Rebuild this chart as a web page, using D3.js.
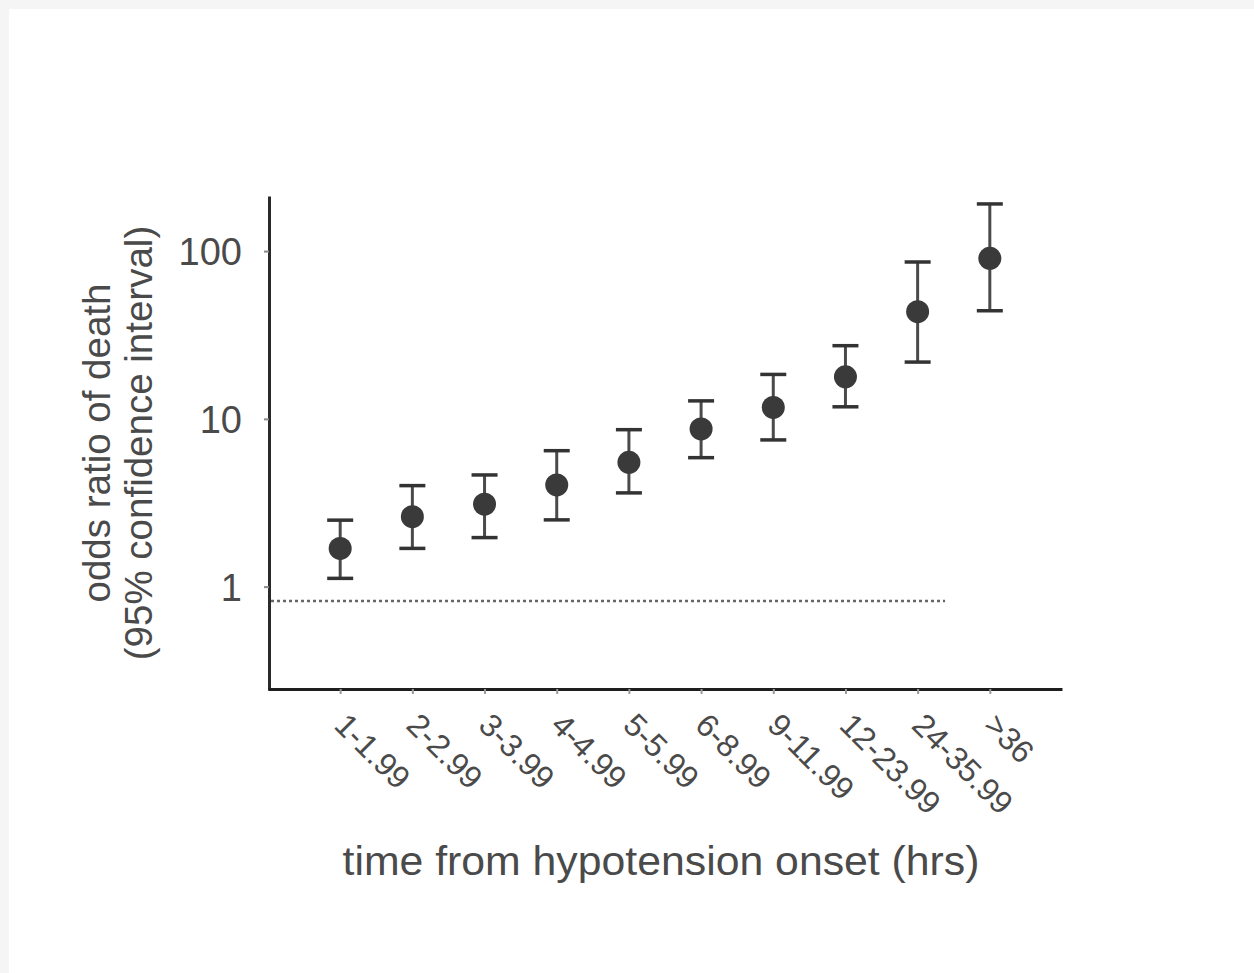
<!DOCTYPE html>
<html>
<head>
<meta charset="utf-8">
<script src="https://cdn.jsdelivr.net/npm/d3@7/dist/d3.min.js"></script>
<style>
  html, body { margin: 0; padding: 0; background: #f5f5f5; }
  svg { display: block; }
  text { font-family: "Liberation Sans", Arial, sans-serif; }
</style>
</head>
<body>
<svg id="chart" width="1254" height="973"></svg>
<script>
// ---- data ----
const categories = ["1-1.99", "2-2.99", "3-3.99", "4-4.99", "5-5.99", "6-8.99", "9-11.99", "12-23.99", "24-35.99", ">36"];
const oddsRatio  = [1.69, 2.61, 3.10, 4.04, 5.51, 8.71, 11.7, 17.8, 43.5, 90.6];
const ciLower    = [1.12, 1.69, 1.96, 2.50, 3.62, 5.87, 7.49, 11.8, 21.8, 44.1];
const ciUpper    = [2.49, 4.00, 4.63, 6.46, 8.62, 12.8, 18.4, 27.3, 86.1, 191];
const yTickValues = [1, 10, 100];
const yTickLabels = ["1", "10", "100"];
const yDomain = [0.242, 213];
const referenceValue = 0.822;
const xTitle = "time from hypotension onset (hrs)";
const yTitleLines = ["odds ratio of death", "(95% confidence interval)"];

// ---- layout ----
const svg = d3.select("#chart");
svg.append("rect").attr("x", 9).attr("y", 9).attr("width", 1245).attr("height", 964).attr("fill", "#ffffff");

const x = d3.scalePoint().domain(categories).range([268, 1062]).padding(1);
const y = d3.scaleLog().domain(yDomain).range([690, 196]);

const textColor = "#4a4a4a";
const markColor = "#3a3a3a";

// y axis
const yAxis = svg.append("g")
  .attr("transform", "translate(269,0)")
  .call(d3.axisLeft(y).tickValues(yTickValues).tickFormat((d, i) => yTickLabels[i]).tickSize(5).tickSizeOuter(0).tickPadding(22));
yAxis.select(".domain").attr("stroke", "#2a2a2a").attr("stroke-width", 3);
yAxis.selectAll(".tick line").attr("stroke", "#888").attr("stroke-width", 2);
yAxis.selectAll(".tick text")
  .attr("fill", textColor).attr("font-size", 38).attr("dy", "0.36em");

// x axis
const xAxis = svg.append("g")
  .attr("transform", "translate(0,689)")
  .call(d3.axisBottom(x).tickSize(5).tickSizeOuter(0));
xAxis.select(".domain").attr("stroke", "#1e1e1e").attr("stroke-width", 3);
xAxis.selectAll(".tick line").attr("stroke", "#999").attr("stroke-width", 2);
xAxis.selectAll(".tick text")
  .attr("fill", textColor).attr("font-size", 32)
  .attr("text-anchor", "start")
  .attr("dy", 0).attr("y", 0)
  .attr("transform", "translate(-8,38) rotate(45)");

// reference (dotted) line
const step = x.step();
svg.append("line")
  .attr("x1", 271).attr("x2", x(categories[categories.length - 2]) + step * 0.38)
  .attr("y1", y(referenceValue)).attr("y2", y(referenceValue))
  .attr("stroke", "#666").attr("stroke-width", 2.5).attr("stroke-dasharray", "3,3");

// error bars
const g = svg.append("g");
const capHalf = 13;
categories.forEach((c, i) => {
  const cx = x(c);
  g.append("line").attr("x1", cx).attr("x2", cx).attr("y1", y(ciUpper[i])).attr("y2", y(ciLower[i]))
    .attr("stroke", "#4a4a4a").attr("stroke-width", 3);
  [ciUpper[i], ciLower[i]].forEach(v => {
    g.append("line").attr("x1", cx - capHalf).attr("x2", cx + capHalf).attr("y1", y(v)).attr("y2", y(v))
      .attr("stroke", "#333").attr("stroke-width", 3.5);
  });
});
g.selectAll("circle").data(categories).join("circle")
  .attr("cx", d => x(d)).attr("cy", (d, i) => y(oddsRatio[i]))
  .attr("r", 11.5).attr("fill", markColor);

// axis titles
svg.append("text")
  .attr("x", 661).attr("y", 875).attr("text-anchor", "middle")
  .attr("font-size", 40).attr("fill", textColor)
  .attr("textLength", 637).attr("lengthAdjust", "spacingAndGlyphs")
  .text(xTitle);

const yt = svg.append("text")
  .attr("transform", "translate(110,443) rotate(-90)")
  .attr("text-anchor", "middle").attr("font-size", 38.5).attr("fill", textColor);
yt.append("tspan").attr("x", 0).attr("y", 0).text(yTitleLines[0]);
yt.append("tspan").attr("x", 0).attr("y", 42).text(yTitleLines[1]);
</script>
</body>
</html>
